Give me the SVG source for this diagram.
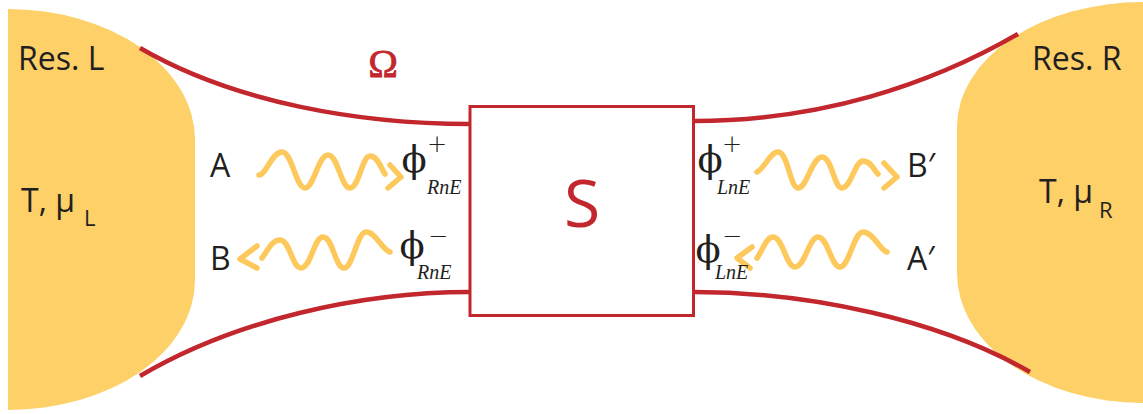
<svg xmlns="http://www.w3.org/2000/svg" width="1143" height="414" viewBox="0 0 1143 414">
<style>
.res{fill:#fdd068;stroke:none}
.wire{fill:none;stroke:#c1272d;stroke-width:4.5;stroke-linecap:butt}
.box{fill:#fff;stroke:#c1272d;stroke-width:3}
.wave{fill:none;stroke:#fdc95c;stroke-width:5.5;stroke-linecap:round;stroke-linejoin:round}
.lbl{font-family:"Open Sans","Liberation Sans",sans-serif;fill:#231f20}
.big{font-size:32px}
.sub{font-size:22px}
.phi{font-family:"DejaVu Serif",serif;font-size:37px;fill:#231f20}
.pm{font-family:"DejaVu Sans",sans-serif;font-weight:200;font-size:24px;fill:#231f20}
.idx{font-family:"Liberation Serif","DejaVu Serif",serif;font-style:italic;font-size:20px;fill:#231f20}
</style>
<rect width="1143" height="414" fill="#fff"/>
<g id="resL">
<path class="res" d="M8,9 A187,131 0 0 1 195,140 L195,280 A187,130 0 0 1 8,410 Z"/>
<text class="lbl big" x="18" y="70">Res. L</text>
<text class="lbl big" x="21" y="212">T, μ</text>
<text class="lbl sub" x="84" y="226">L</text>
</g>
<g id="resR">
<path class="res" d="M1143,2 A186,125 0 0 0 957,127 L957,273 A186,130 0 0 0 1143,403 Z"/>
<text class="lbl big" x="1032" y="70">Res. R</text>
<text class="lbl big" x="1039" y="203">T, μ</text>
<text class="lbl sub" x="1099" y="218">R</text>
</g>
<g id="connectors">
<path class="wire" d="M140,48 C235,103 360,124 470,124"/>
<path class="wire" d="M140,376 C235,320 360,292 470,292"/>
<path class="wire" d="M694,121 C820,121 930,85 1018,34"/>
<path class="wire" d="M694,292 C810,292 940,320 1030,372"/>
</g>
<g id="S">
<rect class="box" x="470" y="106.5" width="223.5" height="209"/>
<text x="582" y="227" text-anchor="middle" font-family="Open Sans,Liberation Sans,sans-serif" font-size="66" fill="#c1272d">S</text>
</g>
<g id="omega">
<text x="383" y="77" text-anchor="middle" font-family="Liberation Serif,serif" font-size="40" fill="#c1272d" stroke="#c1272d" stroke-width="0.8">Ω</text>
</g>
<g id="waveA">
<path class="wave" d="M259,175 C266,175 272,152 282,152 C292,152 296,188 305,188 C314,188 318,155 328,155 C338,155 341,188 350,188 C359,188 362,156 370,156 C378,156 381,169 385,174"/>
<path class="wave" d="M390,165 L401,177 L388,188"/>
<text class="lbl big" x="210" y="177">A</text>
</g>
<g id="waveB">
<path class="wave" d="M262,258 C268,250 272,240 280,240 C290,240 292,268 301,268 C311,268 314,237 323,237 C333,237 335,268 344,268 C353,268 357,232 366,232 C376,232 382,250 390,252"/>
<path class="wave" d="M257,246 L240,259 L257,268"/>
<text class="lbl big" x="210" y="270">B</text>
</g>
<g id="waveBp">
<path class="wave" d="M757,172 C765,168 770,152 778,152 C788,152 790,188 798,188 C807,188 812,157 822,157 C832,157 834,188 842,188 C851,188 855,161 863,161 C871,161 874,170 878,174"/>
<path class="wave" d="M884,163 L897,177 L884,188"/>
<text class="lbl big" x="907" y="177">B′</text>
</g>
<g id="waveAp">
<path class="wave" d="M757,258 C763,250 766,237 773,237 C783,237 786,267 795,267 C805,267 809,237 818,237 C828,237 831,267 840,267 C849,267 854,232 863,232 C873,232 880,250 887,252"/>
<path class="wave" d="M752,247 L737,258 L750,268"/>
<text class="lbl big" x="907" y="270">A′</text>
</g>
<g id="phiRp">
<text class="phi" x="414" y="172" text-anchor="middle">ϕ</text>
<text class="pm" x="437" y="152" text-anchor="middle">+</text>
<text class="idx" x="427" y="194">RnE</text>
</g>
<g id="phiRm">
<text class="phi" x="412" y="258" text-anchor="middle">ϕ</text>
<text class="pm" x="438" y="244" text-anchor="middle">−</text>
<text class="idx" x="417" y="279">RnE</text>
</g>
<g id="phiLp">
<text class="phi" x="710" y="172" text-anchor="middle">ϕ</text>
<text class="pm" x="732" y="152" text-anchor="middle">+</text>
<text class="idx" x="717" y="194">LnE</text>
</g>
<g id="phiLm">
<text class="phi" x="708" y="262" text-anchor="middle">ϕ</text>
<text class="pm" x="732" y="244" text-anchor="middle">−</text>
<text class="idx" x="715" y="279">LnE</text>
</g>
</svg>
